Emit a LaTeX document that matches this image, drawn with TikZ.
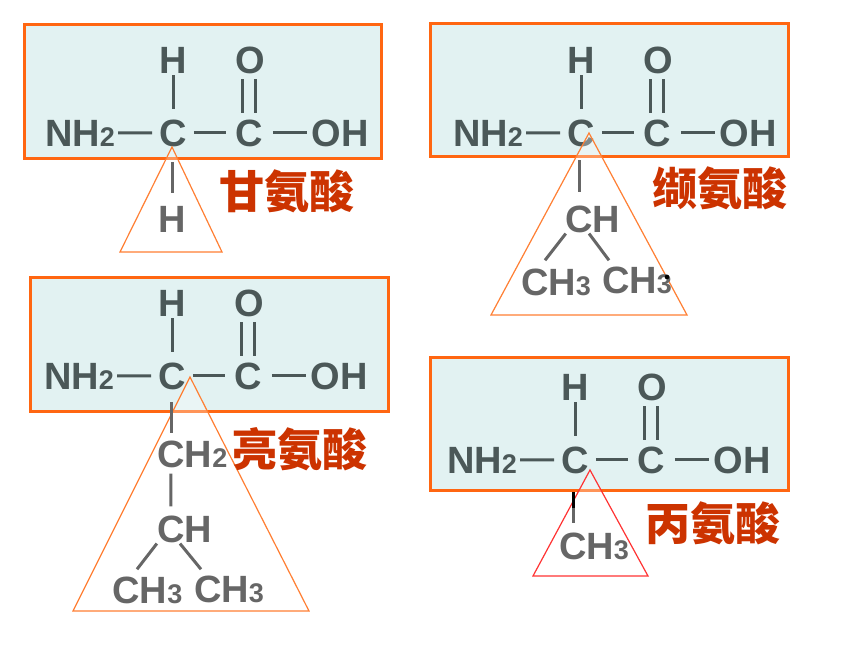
\documentclass[tikz,border=0pt]{standalone}
\usepackage{fontspec}
\setmainfont{Liberation Sans}
\newfontfamily\cjk{Noto Sans CJK SC}
\usetikzlibrary{calc}
\definecolor{boxfill}{HTML}{E2F2F2}
\definecolor{boxline}{HTML}{FF6611}
\definecolor{atomc}{HTML}{4B5858}
\definecolor{substc}{HTML}{666666}
\definecolor{triline}{HTML}{FF7F33}
\definecolor{trired}{HTML}{FF3333}
\definecolor{labelc}{HTML}{CC3300}
\newcommand\chemsub[1]{{\fontsize{27}{27}\selectfont #1}}
\tikzset{
 panelbox/.style={draw=boxline, fill=boxfill, line width=3.5pt},
 atom/.style={font=\fontsize{38}{38}\selectfont\bfseries, text=atomc, inner sep=0pt, anchor=base},
 subst/.style={atom, text=substc},
 bond/.style={draw=atomc, line width=3pt},
 sbond/.style={draw=substc, line width=3pt},
 tri/.style={draw=triline, line width=1.2pt, fill=white, fill opacity=0.3},
 aalabel/.style={font=\fontsize{45}{45}\selectfont\cjk\bfseries, text=labelc, inner sep=0pt},
 aacore/.pic={
  \node[atom] (-nh2) at (-93,0) {NH\chemsub{2}};
  \node[atom] (-c1) at (0,0) {C};
  \node[atom] (-c2) at (76,0) {C};
  \node[atom] (-oh) at (167,0) {OH};
  \node[atom] (-h) at (0,-73) {H};
  \node[atom] (-o) at (77,-73) {O};
  \draw[bond, shorten <=3pt, shorten >=7pt] (-nh2.east) -- (-c1.west);
  \draw[bond, shorten <=7pt, shorten >=9pt] (-c1.east) -- (-c2.west);
  \draw[bond, shorten <=10pt, shorten >=4.5pt] (-c2.east) -- (-oh.west);
  \draw[bond, shorten <=2pt, shorten >=10pt] (-h.south) -- (-c1.north);
  \draw[bond, shorten <=5.5pt, shorten >=6pt] ([xshift=-7.5pt]-o.south) -- ([xshift=-6.5pt]-c2.north);
  \draw[bond, shorten <=5.5pt, shorten >=6pt] ([xshift=5.5pt]-o.south) -- ([xshift=6.5pt]-c2.north);
 }
}
\begin{document}
\begin{tikzpicture}[x=1pt,y=-1pt]
\useasboundingbox (0,0) rectangle (860,645);
\fill[white] (0,0) rectangle (860,645);
% boxes
\draw[panelbox] (24.5,24.5) rectangle (381.5,158.5);
\draw[panelbox] (430.5,23.5) rectangle (788.5,156.5);
\draw[panelbox] (30.5,277.5) rectangle (388.5,411.5);
\draw[panelbox] (430.5,357.5) rectangle (788.5,490.5);
% common formula parts
\pic (p1) at (173,146) {aacore};
\pic (p2) at (581,146) {aacore};
\pic (p3) at (172,389) {aacore};
\pic (p4) at (575,473) {aacore};
% triangles
\draw[tri] (172,147) -- (222,252) -- (120,252) -- cycle;
\draw[tri] (589,133) -- (687,315) -- (491,315) -- cycle;
\draw[tri] (190,377) -- (309,611) -- (73,611) -- cycle;
\draw[tri, draw=trired] (590,470) -- (648,576) -- (533,576) -- cycle;
% side chains
\node[subst] (p1s-h) at (172,232) {H};
\draw[sbond] ($(p1-c1.south)+(-1,15.5)$) -- ($(p1s-h.north)+(0,-12.5)$);

\node[subst] (p2s-ch) at (593,232) {CH};
\node[subst] (p2s-ch3a) at (556,295) {CH\chemsub{3}};
\node[subst] (p2s-ch3b) at (637,293) {CH\chemsub{3}};
\draw[sbond] ($(p2-c1.south)+(-2,13.5)$) -- ($(p2-c1.south |- p2s-ch.north)+(-2,-12.8)$);
\draw[sbond] ($(p2s-ch.south west)+(0.4,1)$) -- ($(p2s-ch3a.north)+(-11,-8)$);
\draw[sbond] ($(p2s-ch.south)+(-4,1)$) -- ($(p2s-ch3b.north)+(-28,-6)$);
\fill[black] (667,277) circle (2.3pt);

\node[subst] (p3s-ch2) at (192.5,467) {CH\chemsub{2}};
\node[subst] (p3s-ch) at (184.5,542) {CH};
\node[subst] (p3s-ch3a) at (147.5,603) {CH\chemsub{3}};
\node[subst] (p3s-ch3b) at (229,602) {CH\chemsub{3}};
\draw[sbond] ($(p3-c1.south)+(-1,12.5)$) -- ($(p3-c1.south |- p3s-ch2.north)+(-1,-7)$);
\draw[sbond] ($(p3s-ch2.south west)+(13.4,6)$) -- ($(p3s-ch.north west)+(13.9,-9)$);
\draw[sbond] ($(p3s-ch.south west)+(0,1)$) -- ($(p3s-ch3a.north)+(-10.5,-7)$);
\draw[sbond] ($(p3s-ch.south)+(-4.5,1)$) -- ($(p3s-ch3b.north)+(-28,-6)$);

\node[subst] (p4s-ch3) at (594,559) {CH\chemsub{3}};
\draw[draw=black, line width=3pt] ($(p4-c1.south)+(-2,18.5)$) -- ($(p4-c1.south)+(-2,34)$);
\draw[sbond] ($(p4-c1.south)+(-2,34)$) -- ($(p4s-ch3.north)+(-21,-9)$);
% labels
\node[aalabel] (l1) at (287,191.5) {甘氨酸};
\node[aalabel] (l2) at (720,188) {缬氨酸};
\node[aalabel] (l3) at (300,449) {亮氨酸};
\node[aalabel] (l4) at (713,523) {丙氨酸};
\end{tikzpicture}
\end{document}
